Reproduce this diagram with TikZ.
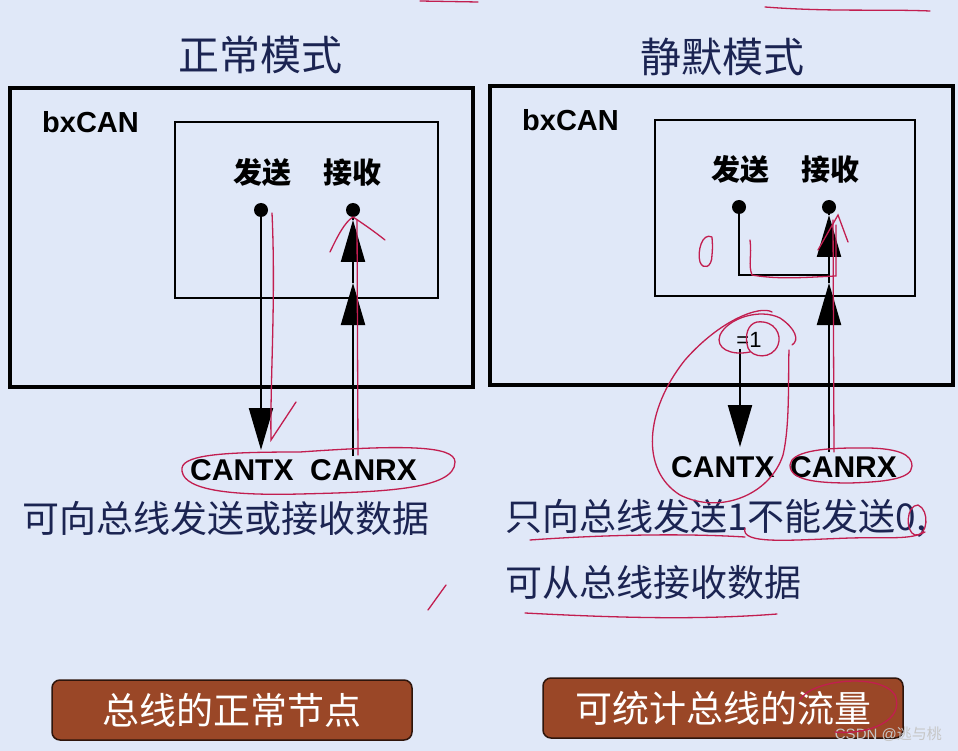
\documentclass[tikz,border=0pt]{standalone}
\usepackage{fontspec}
\setmainfont{Liberation Sans}
\newfontfamily\cjk{Noto Sans CJK SC}
\usetikzlibrary{arrows.meta,shapes.geometric}
\definecolor{bgc}{HTML}{E0E8F8}
\definecolor{navy}{HTML}{1B2452}
\definecolor{brownb}{HTML}{9A4727}
\definecolor{pen}{HTML}{C21E50}
\begin{document}
\begin{tikzpicture}[x=1pt,y=-1pt,
  title/.style={font=\cjk\fontsize{41}{41}\selectfont,text=navy,inner sep=0},
  outer/.style={draw=black,line width=4},
  inner/.style={draw=black,line width=2},
  lbl/.style={font=\bfseries\fontsize{29}{29}\selectfont,inner sep=0,anchor=west},
  io/.style={font=\cjk\bfseries\fontsize{29}{29}\selectfont,text=black,inner sep=0},
  pin/.style={circle,fill=black,inner sep=0,minimum size=14},
  sig/.style={font=\bfseries\fontsize{30}{30}\selectfont,inner sep=0},
  desc/.style={font=\cjk\fontsize{37}{37}\selectfont,text=navy,inner sep=0,anchor=west},
  btn/.style={draw=black!70!brownb,line width=1.5,fill=brownb,rounded corners=8,
     minimum width=360,minimum height=60,text=white,font=\cjk\fontsize{37}{37}\selectfont},
  wire/.style={line width=2.2},
  arr/.style={wire,-{Triangle[width=24,length=42]}},
  ink/.style={draw=pen,line width=1.3,line cap=round}]
\fill[bgc] (0,0) rectangle (958,751);
\useasboundingbox (0,0) rectangle (958,751);

% ---------- left panel ----------
\node[title] (t1) at (260,55) {正常模式};
\draw[outer] (10,88) rectangle (473,387);
\node[lbl] (bx1) at (42,122) {bxCAN};
\draw[inner] (175,122) rectangle (438,298);
\node[io] (s1) at (262,173) {发送};
\node[io] (r1) at (352,173) {接收};
\node[pin] (ps1) at (261,210) {};
\node[pin] (pr1) at (353,210) {};
\node[sig,anchor=west] (tx1) at (190,470) {CANTX};
\node[sig,anchor=west] (rx1) at (310,470) {CANRX};
\coordinate (tx1top) at (261,450);
\coordinate (rx1top) at (353,456);
\draw[arr] (ps1.center) -- (tx1top);
\coordinate (m1) at (353,283);
\coordinate (m2) at (353,220);
\draw[arr] (rx1top) -- (m1);
\draw[arr] (m1) -- (m2);
\draw[wire] (m2) -- (pr1.center);
\node[desc] (d1) at (22,518) {可向总线发送或接收数据};
\node[btn] (b1) at (232,710) {总线的正常节点};

% ---------- right panel ----------
\node[title] (t2) at (722,57) {静默模式};
\draw[outer] (490,86) rectangle (953,385);
\node[lbl] (bx2) at (522,120) {bxCAN};
\draw[inner] (655,120) rectangle (915,296);
\node[io] (s2) at (740,170) {发送};
\node[io] (r2) at (830,170) {接收};
\node[pin] (ps2) at (739,207) {};
\node[pin] (pr2) at (829,207) {};
\node[font=\fontsize{22}{22}\selectfont,inner sep=1] (eq) at (749,340) {=1};
\node[sig,anchor=west] (tx2) at (671,467) {CANTX};
\node[sig,anchor=west] (rx2) at (790,467) {CANRX};
\coordinate (tx2top) at (740,447);
\coordinate (rx2top) at (829,452);
\coordinate (k1) at (739,275);
\coordinate (k2) at (829,275);
\coordinate (n1) at (829,283);
\coordinate (n2) at (829,215);
\draw[line width=1.6] (ps2.center) -- (k1) -- (k2);
\draw[arr] (rx2top) -- (n1);
\draw[arr] (n1) -- (n2);
\draw[wire] (n2) -- (pr2.center);
\draw[arr] (eq.south -| tx2top) -- (tx2top);
\node[desc] (d2) at (505,518) {只向总线发送1不能发送0,};
\node[desc] (d3) at (505,582) {可从总线接收数据};
\node[btn] (b2) at (723,708) {可统计总线的流量};
\node[font=\fontsize{15}{15}\selectfont,text=white!55!gray,anchor=east,inner sep=0] (wm) at (942,734) {CSDN @\cjk 逃与桃};

% ---------- hand annotations ----------
\draw[ink] (420,1) -- (478,2);
\draw[ink] (765,7) .. controls (830,12) and (880,9) .. (930,11);
\draw[ink] (272,213) .. controls (276,300) and (270,380) .. (271,440) -- (296,402);
\draw[ink] (330,252) .. controls (338,235) and (345,222) .. (353,217) .. controls (365,225) and (375,232) .. (385,240);
\draw[ink] (357,220) -- (358,455);
\draw[ink] (300,452) .. controls (400,445) and (455,445) .. (455,462) .. controls (455,490) and (380,492) .. (300,494) .. controls (220,496) and (180,488) .. (182,468) .. controls (184,454) and (230,452) .. (300,452);
\draw[ink] (428,610) -- (446,585);
% right
\draw[ink] (712,237) .. controls (702,232) and (697,252) .. (700,262) .. controls (703,270) and (712,268) .. (712,255) .. controls (713,245) and (712,240) .. (712,237);
\draw[ink] (750,240) .. controls (752,255) and (748,265) .. (752,275) .. controls (780,280) and (810,277) .. (836,276) -- (836,225);
\draw[ink] (818,250) -- (838,215) -- (848,242);
\draw[ink] (833,220) -- (834,452);
\draw[ink] (757,322) .. controls (775,320) and (782,335) .. (778,345) .. controls (772,360) and (752,358) .. (748,348) .. controls (744,335) and (748,324) .. (757,322);
\draw[ink] (750,352) .. controls (730,356) and (715,348) .. (720,335) .. controls (728,318) and (760,308) .. (780,318) .. controls (795,328) and (800,340) .. (792,345);
\draw[ink] (772,312) .. controls (760,305) and (720,320) .. (685,360) .. controls (645,410) and (640,470) .. (680,495) .. controls (720,515) and (770,495) .. (783,455) .. controls (790,425) and (788,380) .. (789,350);
\draw[ink] (855,448) .. controls (900,447) and (912,455) .. (912,466) .. controls (912,480) and (880,482) .. (850,483) .. controls (815,483) and (790,480) .. (790,465) .. controls (791,452) and (820,448) .. (855,448);
\draw[ink] (530,540) .. controls (600,535) and (680,533) .. (745,537);
\draw[ink] (745,528) .. controls (740,545) and (790,540) .. (850,538) .. controls (890,537) and (910,540) .. (925,532);
\draw[ink] (918,505) .. controls (906,505) and (905,532) .. (915,535) .. controls (928,537) and (930,510) .. (918,505);
\draw[ink] (525,613) .. controls (620,618) and (700,620) .. (777,614);
\draw[ink] (800,700) .. controls (810,680) and (880,672) .. (895,695) .. controls (905,720) and (870,735) .. (835,732);
\end{tikzpicture}
\end{document}
